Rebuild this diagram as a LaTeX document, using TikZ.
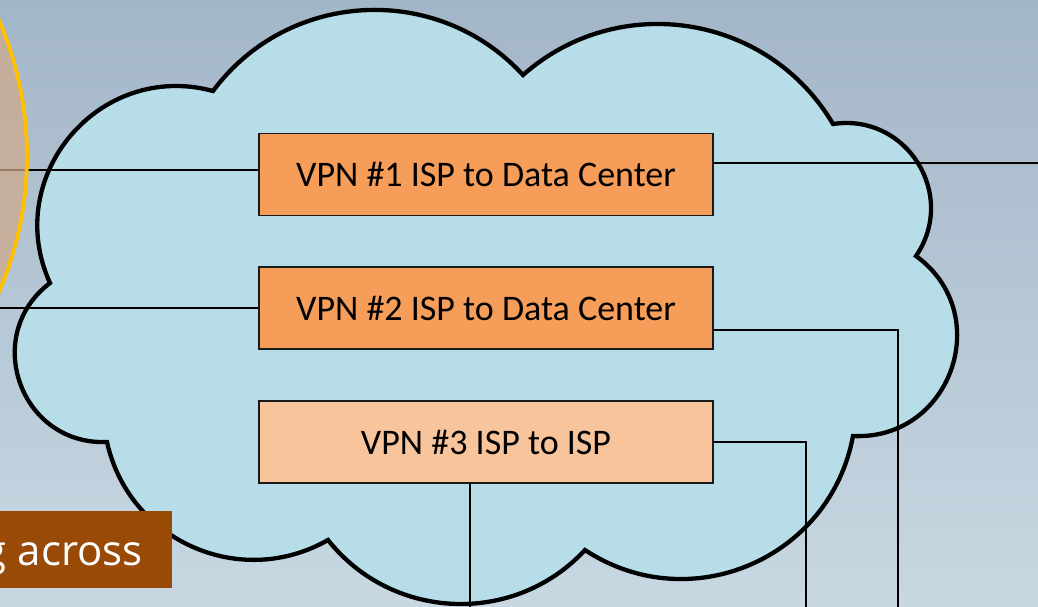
\documentclass[tikz,border=0pt]{standalone}
\usepackage{fontspec}
\newfontfamily\boxfont{Carlito}
\newfontfamily\lblfont{Open Sans}
\definecolor{bgtop}{RGB}{163,182,200}
\definecolor{bgbot}{RGB}{200,216,226}
\definecolor{cloudfill}{RGB}{183,222,232}
\definecolor{vpnA}{RGB}{245,157,89}
\definecolor{vpnB}{RGB}{248,196,155}
\definecolor{ringline}{RGB}{255,192,0}
\definecolor{ringfill}{RGB}{206,169,139}
\definecolor{tagbrown}{RGB}{154,74,7}
\begin{document}
\begin{tikzpicture}[x=1pt,y=-1pt,
  cloudshape/.style={draw=black, line width=4.3pt, fill=cloudfill},
  vpnbox/.style={draw=black!90, line width=1.5pt, minimum width=454pt, minimum height=82pt,
    inner sep=0pt, font=\boxfont\fontsize{36}{43}\selectfont},
  wire/.style={draw=black, line width=1.4pt},
  ring/.style={draw=ringline, line width=3.8pt, fill=ringfill, fill opacity=0.75},
  tag/.style={fill=tagbrown, text=white, font=\lblfont\fontsize{42}{50}\selectfont,
    text height=40pt, text depth=9pt, inner ysep=14pt, inner xsep=29pt}]
\useasboundingbox (0,0) rectangle (1038,606);
\clip (0,0) rectangle (1038,606);
% backdrop
\shade[top color=bgtop, bottom color=bgbot] (0,0) rectangle (1038,606);

% cloud made of circular lobes meeting at cusps
\path[cloudshape] (213,91)
  to[bend left=50.4, looseness=1.04] (523,75)
  to[bend left=50.5, looseness=1.04] (833,124)
  to[bend left=66.4, looseness=1.22] (916,256)
  to[bend left=73.4, looseness=1.32] (853,436)
  to[bend left=56.4, looseness=1.10] (585,550)
  to[bend left=49.3, looseness=1.03] (328,540)
  to[bend left=53.6, looseness=1.07] (107,442)
  to[bend left=72.6, looseness=1.31] (50,283)
  to[bend left=64.8, looseness=1.19] (213,91) -- cycle;

% tunnels
\node[vpnbox, fill=vpnA] (b1) at (486,174.5) {VPN \#1 ISP to Data Center};
\node[vpnbox, fill=vpnA] (b2) at (486,308) {VPN \#2 ISP to Data Center};
\node[vpnbox, fill=vpnB] (b3) at (486,442) {VPN \#3 ISP to ISP};

% links leaving the picture
\coordinate (w1) at (0,170);
\coordinate (w2) at (0,308);
\coordinate (e1) at (1040,163);
\coordinate (k2) at (898,330);
\coordinate (s2) at (898,610);
\coordinate (s3) at (806,610);
\coordinate (s4) at (470,610);
\draw[wire] (w1) -- (w1 -| b1.west);
\draw[wire] (w2) -- (b2.west);
\draw[wire] (e1 -| b1.east) -- (e1);
\draw[wire] (k2 -| b2.east) -- (k2) -- (s2);
\draw[wire] (b3.east) -| (s3);
\draw[wire] (b3.south -| s4) -- (s4);

% site on the left edge
\path[ring] (-314,156) circle[radius=341pt];

% caption strip
\node[tag, anchor=east] (cap) at (172,549.5) {g across};
\end{tikzpicture}
\end{document}
